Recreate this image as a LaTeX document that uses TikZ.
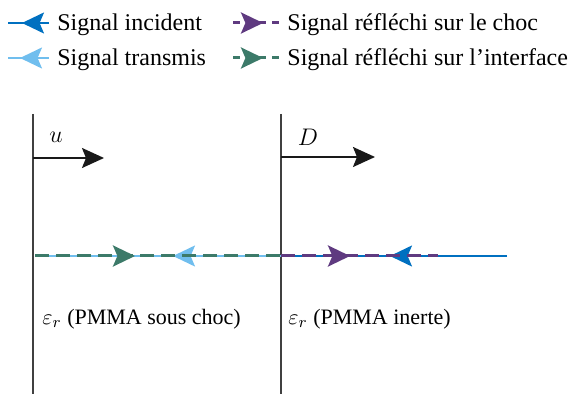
\documentclass[tikz,border=0pt]{standalone}
\usepackage{fontspec}
\setmainfont{Liberation Serif}
\usetikzlibrary{arrows.meta}
\usetikzlibrary{decorations.markings}

\definecolor{incid}{RGB}{0,112,192}
\definecolor{transm}{RGB}{112,190,238}
\definecolor{reflchoc}{RGB}{95,58,128}
\definecolor{reflint}{RGB}{60,122,105}
\definecolor{wallgray}{RGB}{64,64,64}

\tikzset{
  sigtip/.style={postaction={decorate}, decoration={markings,
      mark=at position #1 with {\arrow{Stealth[length=11pt,width=10.5pt,inset=2.2pt]}}}},
  solidsig/.style={line width=1pt},
  dashsig/.style={line width=1.5pt, dash pattern=on 7pt off 3.5pt},
  legdash/.style={line width=1.5pt, dash pattern=on 3.5pt off 3pt},
  wall/.style={wallgray, line width=1pt},
  speed/.style={black!90, line width=1pt, -{Stealth[length=11pt,width=10pt,inset=2pt]}},
  legtext/.style={anchor=base west, font=\fontsize{12}{14}\selectfont},
  zonetext/.style={anchor=base west, font=\fontsize{11}{13}\selectfont},
}

\begin{document}
\begin{tikzpicture}[x=0.5pt, y=-0.5pt, every node/.style={inner sep=0pt}]
				\useasboundingbox (0,0) rectangle (571,394);
				
				% Legend
				\coordinate (incA) at (8,23);    \coordinate (incB) at (49,23);
				\coordinate (traA) at (8,58);    \coordinate (traB) at (49,58);
				\coordinate (chocA) at (233,23); \coordinate (chocB) at (280,23);
				\coordinate (intA) at (233,58);  \coordinate (intB) at (280,58);
				\draw[incid, solidsig, sigtip=13.5pt] (incB) -- (incA);
				\draw[transm, solidsig, sigtip=14.5pt] (traB) -- (traA);
				\draw[reflchoc, legdash, sigtip=15pt] (chocA) -- (chocB);
				\draw[reflint, legdash, sigtip=15pt] (intA) -- (intB);
				\node[legtext] (lgincid) at (57,31) {Signal incident};
				\node[legtext] (lgtransm) at (57,66) {Signal transmis};
				\node[legtext] (lgchoc) at (287,31) {Signal réfléchi sur le choc};
				\node[legtext] (lginterf) at (287,66) {Signal réfléchi sur l’interface};
				
				% Shock front and interface
				\coordinate (chocT) at (33,114);  \coordinate (chocD) at (33,394);
				\coordinate (interT) at (281,114); \coordinate (interD) at (281,394);
				\draw[wall] (chocT) -- (chocD);
				\draw[wall] (interT) -- (interD);
				
				% Velocities
				\coordinate (uA) at (33,158);  \coordinate (uB) at (104,158);
				\coordinate (DA) at (281,157); \coordinate (DB) at (375,157);
				\draw[speed] (uA) -- (uB);
				\draw[speed] (DA) -- (DB);
				\node (lbu) at (56,137) {\fontsize{12}{14}\selectfont$u$};
				\node (lbD) at (308,137) {\fontsize{12}{14}\selectfont$D$};
				
				% Signals
				\coordinate (sigL) at (35,256);
				\coordinate (sigM) at (281,256);
				\coordinate (sigP) at (438,256);
				\coordinate (sigR) at (507,256);
				\draw[transm, solidsig, sigtip=54pt] (sigM) -- (sigL);
				\draw[reflint, dashsig, sigtip=50pt] (sigL) -- (sigM);
				\draw[incid, solidsig, sigtip=58.5pt] (sigR) -- (sigM);
				\draw[reflchoc, dashsig, sigtip=34.5pt] (sigM) -- (sigP);
				
				% Zones
				\node[zonetext] (zchoc) at (42,324) {$\varepsilon_r$ (PMMA sous choc)};
				\node[zonetext] (zinerte) at (288,324) {$\varepsilon_r$ (PMMA inerte)};
			\end{tikzpicture}
\end{document}
